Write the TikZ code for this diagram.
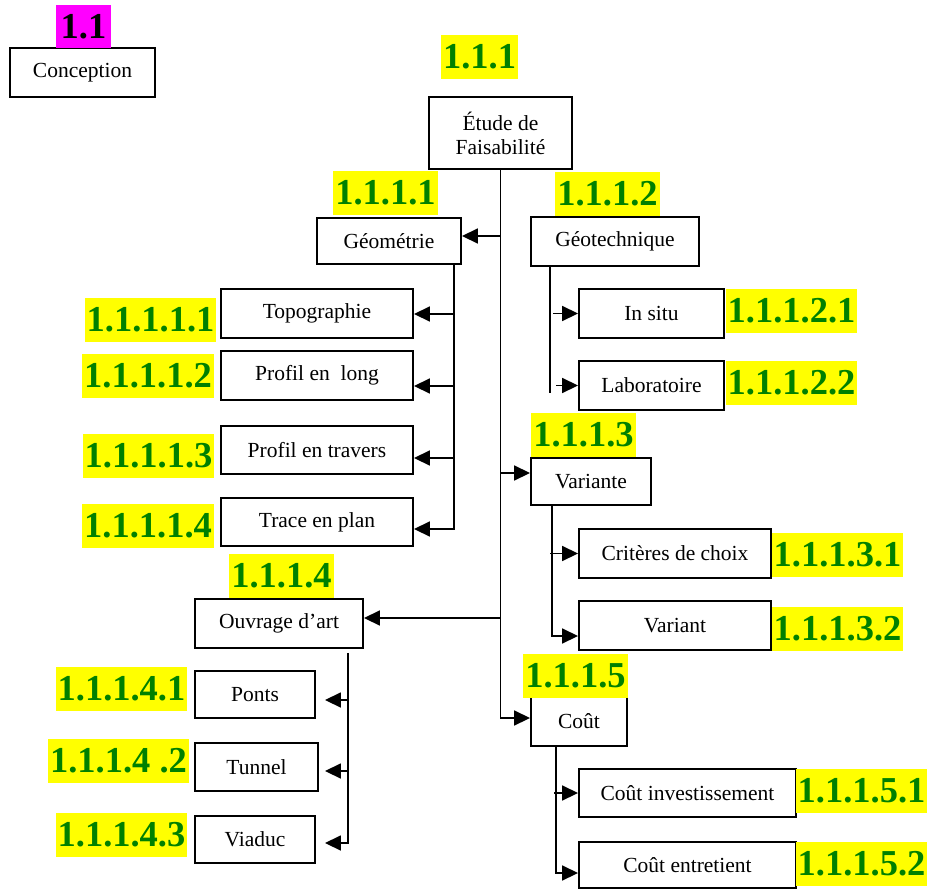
\documentclass[tikz,border=0pt]{standalone}
\usepackage{fontspec}
\setmainfont{Liberation Serif}
\usetikzlibrary{arrows.meta,calc}
\definecolor{lgreen}{RGB}{0,128,0}
\definecolor{lyellow}{RGB}{255,255,0}
\definecolor{lmagenta}{RGB}{255,0,255}
\begin{document}
\begin{tikzpicture}[x=1pt,y=-1pt,
  box/.style={draw, line width=1.9pt, inner sep=0pt, fill=white, font=\fontsize{21.5}{24}\selectfont, align=center},
  lab/.style={fill=lyellow, text=lgreen, font=\fontsize{36.5}{40}\selectfont\bfseries, inner xsep=2pt, inner ysep=0pt, minimum height=44pt},
  conn/.style={line width=1.7pt},
  arr/.style={conn, -{Triangle[length=16pt,width=15pt]}}]
\useasboundingbox (0,0) rectangle (932,889);
% boxes
\node[box, minimum width=145pt, minimum height=49pt] (conc) at (82.5,72.5) {Conception};
\node[box, minimum width=143pt, minimum height=72pt] (etude) at (500.5,133) {Étude de\\Faisabilité};
\node[box, minimum width=144pt, minimum height=46pt] (geo) at (389,241) {Géométrie};
\node[box, minimum width=168pt, minimum height=49pt] (geot) at (615,241.5) {Géotechnique};
\node[box, minimum width=192pt, minimum height=49pt] (topo) at (317,313.5) {Topographie};
\node[box, minimum width=192pt, minimum height=49pt] (plong) at (317,375.5) {Profil en~ long};
\node[box, minimum width=192pt, minimum height=48pt] (ptrav) at (317,450) {Profil en travers};
\node[box, minimum width=192pt, minimum height=48pt] (trace) at (317,522) {Trace en plan};
\node[box, minimum width=145pt, minimum height=49pt] (insitu) at (651.5,313.5) {In situ};
\node[box, minimum width=145pt, minimum height=49pt] (labo) at (651.5,385.5) {Laboratoire};
\node[box, minimum width=120pt, minimum height=47pt] (var) at (591,481.5) {Variante};
\node[box, minimum width=192pt, minimum height=49pt] (crit) at (675,553.5) {Critères de choix};
\node[box, minimum width=192pt, minimum height=49pt] (variant) at (675,625.5) {Variant};
\node[box, minimum width=96pt, minimum height=49pt] (cout) at (579,721.5) {Coût};
\node[box, minimum width=217pt, minimum height=48pt] (cinv) at (687.5,793) {Coût investissement};
\node[box, minimum width=217pt, minimum height=46pt] (cent) at (687.5,865) {Coût entretient};
\node[box, minimum width=168pt, minimum height=49pt] (ouv) at (279,623.5) {Ouvrage d’art};
\node[box, minimum width=120pt, minimum height=47pt] (ponts) at (255,694.5) {Ponts};
\node[box, minimum width=123pt, minimum height=48pt] (tunnel) at (256.5,767) {Tunnel};
\node[box, minimum width=120pt, minimum height=47pt] (viaduc) at (255,839.5) {Viaduc};
% labels
\node[lab, fill=lmagenta, text=black, minimum width=55pt, minimum height=43pt] (l11) at (83.5,26.5) {1.1};
\node[lab] (l111) at (479.5,57) {1.1.1};
\node[lab] (l1111) at (385.5,193) {1.1.1.1};
\node[lab] (l1112) at (607.5,193.5) {1.1.1.2};
\node[lab] (l11111) at (150.5,319.5) {1.1.1.1.1};
\node[lab] (l11112) at (148,375.5) {1.1.1.1.2};
\node[lab] (l11113) at (148.5,455.5) {1.1.1.1.3};
\node[lab] (l11114) at (148,525.5) {1.1.1.1.4};
\node[lab] (l11121) at (791.5,311) {1.1.1.2.1};
\node[lab] (l11122) at (791.5,382.5) {1.1.1.2.2};
\node[lab] (l1113) at (583.5,434.5) {1.1.1.3};
\node[lab] (l11131) at (837.5,555) {1.1.1.3.1};
\node[lab] (l11132) at (837.5,628.5) {1.1.1.3.2};
\node[lab] (l1114) at (281.5,575.5) {1.1.1.4};
\node[lab] (l11141) at (121.5,689) {1.1.1.4.1};
\node[lab] (l11142) at (118.5,761) {1.1.1.4 .2};
\node[lab] (l11143) at (121.5,834.5) {1.1.1.4.3};
\node[lab] (l1115) at (575.5,676) {1.1.1.5};
\node[lab] (l11151) at (861.5,791) {1.1.1.5.1};
\node[lab] (l11152) at (861.5,864) {1.1.1.5.2};
% trunk and main branches
\coordinate (ga) at ($(geo.east)+(0,-5)$);
\coordinate (va) at ($(var.west)+(0,-8.5)$);
\coordinate (oa) at ($(ouv.east)+(0,-5.5)$);
\coordinate (ca) at ($(cout.west)+(0,-3.5)$);
\draw[arr] (etude.south) |- (ca);
\draw[arr] (etude.south |- ga) -- (ga);
\draw[arr] (etude.south |- va) -- (va);
\draw[arr] (etude.south |- oa) -- (oa);
% Geometrie
\coordinate (gs) at ($(geo.south east)+(-8,0)$);
\coordinate (t1) at ($(topo.east)+(0,0.5)$);
\coordinate (t2) at ($(plong.east)+(0,10.5)$);
\coordinate (t3) at ($(ptrav.east)+(0,8)$);
\coordinate (t4) at ($(trace.east)+(0,7)$);
\draw[arr] (gs) |- (t4);
\draw[arr] (gs |- t1) -- (t1);
\draw[arr] (gs |- t2) -- (t2);
\draw[arr] (gs |- t3) -- (t3);
% Geotechnique
\coordinate (gts) at ($(geot.south west)+(20,0)$);
\draw[conn] (gts) -- ($(gts |- labo.west)+(0,7.5)$);
\draw[arr] ($(gts |- insitu.west)+(3,0)$) -- (insitu.west);
\draw[arr] ($(gts |- labo.west)+(6,0)$) -- (labo.west);
% Variante
\coordinate (vs) at ($(var.south west)+(22,0)$);
\coordinate (v2) at ($(variant.west)+(0,10.5)$);
\draw[arr] (vs) |- (v2);
\draw[arr] ($(vs |- crit.west)+(-2,0)$) -- (crit.west);
% Cout
\coordinate (cs) at ($(cout.south west)+(26,0)$);
\coordinate (c2) at ($(cent.west)+(0,8)$);
\draw[arr] (cs) |- (c2);
\draw[arr] ($(cs |- cinv.west)+(-2,0)$) -- (cinv.west);
% Ouvrage
\coordinate (os) at ($(ouv.south east)+(-16,4)$);
\coordinate (o1) at ($(ponts.east)+(9,5.5)$);
\coordinate (o2) at ($(tunnel.east)+(6,4)$);
\coordinate (o3) at ($(viaduc.east)+(9,3.5)$);
\draw[arr] (os) |- (o3);
\draw[arr] (os |- o1) -- (o1);
\draw[arr] (os |- o2) -- (o2);
\end{tikzpicture}
\end{document}
